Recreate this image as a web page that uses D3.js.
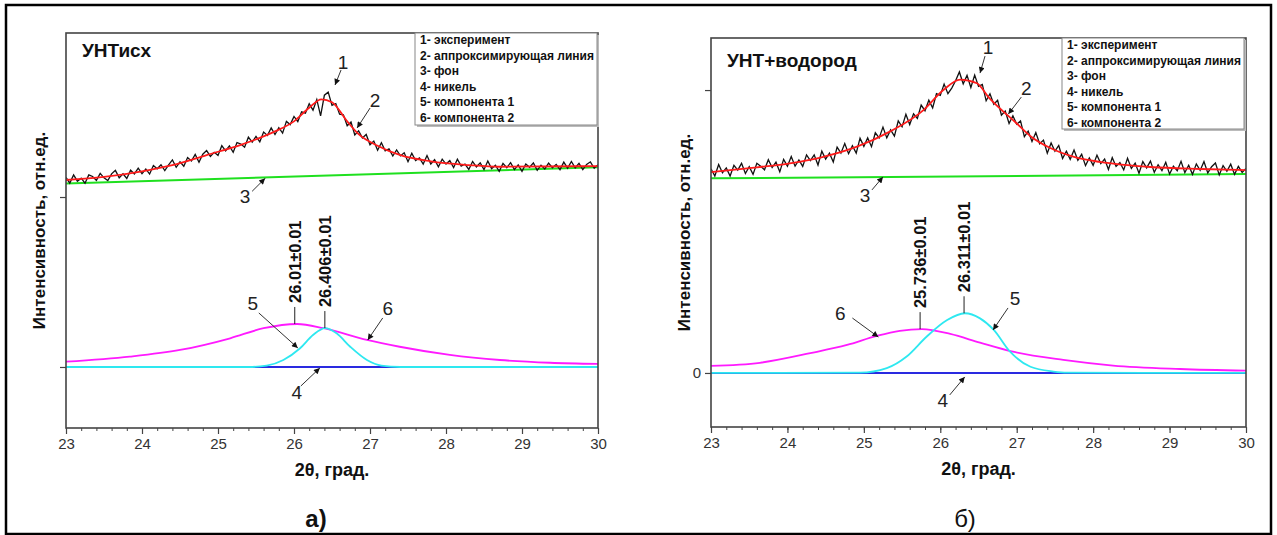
<!DOCTYPE html>
<html>
<head>
<meta charset="utf-8">
<script src="https://cdn.jsdelivr.net/npm/d3@7"></script>
<style>
  body { margin: 0; background: #fff; }
  svg { display: block; font-family: "Liberation Sans", Arial, sans-serif; }
</style>
</head>
<body>
<svg id="chart" width="1277" height="535"></svg>
<script>
// ---- shared ----
const xTicks = [23, 24, 25, 26, 27, 28, 29, 30]
const expStart = 23, expStep = 0.05
const legendItems = ["1- эксперимент", "2- аппроксимирующая линия", "3- фон", "4- никель", "5- компонента 1", "6- компонента 2"]

// ---- panel а) УНТисх ----
const expA = [111.5,108.2,113.0,109.3,111.1,108.1,113.0,112.1,109.8,113.9,111.3,109.7,113.6,115.7,111.3,113.7,110.9,115.8,113.6,117.0,
  113.7,116.5,113.5,118.5,116.6,119.0,115.6,118.9,121.8,117.5,120.7,118.1,123.2,121.2,125.1,120.4,125.2,127.3,123.9,126.3,
  124.5,130.2,127.1,130.1,126.3,132.0,131.2,129.3,135.2,132.3,135.7,132.5,138.2,136.2,140.7,136.8,140.8,137.6,144.5,142.6,
  147.4,144.4,150.1,149.3,154.9,151.1,157.4,147.7,159.9,161.7,153.9,155.0,148.7,148.4,141.9,144.1,136.5,138.9,134.8,136.8,
  130.7,132.9,127.5,131.9,127.2,128.3,124.1,127.7,124.2,126.0,120.8,125.8,121.5,123.0,119.4,124.4,119.4,122.0,117.8,122.3,
  119.4,121.4,117.3,122.2,118.2,119.4,116.2,120.9,117.7,120.1,116.1,121.2,116.7,118.7,115.1,119.8,117.3,120.2,116.1,118.9,
  115.1,119.4,117.5,120.1,115.7,118.7,116.5,119.9,117.2,119.2,116.1,120.5,117.0,120.9,117.2,119.8,116.1,119.2,120.7,116.9,119.0]
const fitA_x = [23.0, 23.5, 24.0, 24.4, 24.85, 25.3, 25.75, 26.0, 26.2, 26.36, 26.5, 26.7, 26.85, 27.1, 27.4, 27.8, 28.3, 28.7, 30.0]
const fitA_y = [110.0, 111.8, 115.1, 118.7, 124.7, 130.7, 138.6, 144.5, 152.5, 157.5, 155.8, 144.5, 137.0, 130.2, 124.6, 121.0, 118.8, 117.8, 118.2]
const bgA_x = [23, 30]
const bgA_y = [107.9, 117.5]
const niA_x = [23, 30]
const niA_y = [0, 0]
const comp1A_x = [23, 25.4, 25.64, 25.86, 26.08, 26.25, 26.41, 26.56, 26.74, 26.96, 27.15, 27.4, 30]
const comp1A_y = [0, 0, 0.8, 4.1, 11.0, 18.8, 22.9, 19.8, 11.9, 4.1, 0.8, 0, 0]
const comp2A_x = [23.0, 23.84, 24.5, 25.16, 25.6, 26.04, 26.39, 26.96, 27.39, 28.05, 28.71, 29.37, 30.0]
const comp2A_y = [3.1, 6.1, 10.0, 16.9, 22.8, 25.3, 22.8, 15.9, 11.9, 7.1, 4.1, 2.5, 1.8]
const peaksA = [{ text: "26.01±0.01", x: 26.01, y: 25.3 }, { text: "26.406±0.01", x: 26.406, y: 22.9 }]
const notesA = [
  { text: "1", x: 26.54, y: 165.9, lx: 8, ly: -23, sx: 6, sy: -15 },
  { text: "2", x: 26.83, y: 140.6, lx: 18, ly: -28, sx: 13, sy: -20 },
  { text: "3", x: 25.62, y: 111.0, lx: -20, ly: 18, sx: -13, sy: 13 },
  { text: "5", x: 26.05, y: 11.2, lx: -45, ly: -45, sx: -39, sy: -35 },
  { text: "6", x: 26.97, y: 15.9, lx: 20, ly: -32, sx: 15, sy: -22 },
  { text: "4", x: 26.34, y: -0.6, lx: -23, ly: 24, sx: -19, sy: 18 }
]

// ---- panel б) УНТ+водород ----
const expB = [72.2,69.6,73.7,70.8,72.5,69.6,73.4,71.7,74.1,70.5,72.9,70.2,74.1,73.1,71.8,75.4,72.6,74.5,71.1,75.5,
  73.1,76.5,73.1,75.3,73.0,77.1,75.1,77.1,73.5,78.4,75.6,77.7,74.6,79.8,77.7,81.1,77.5,80.3,77.7,83.0,
  80.1,83.1,80.0,84.9,83.1,86.9,83.1,85.9,83.7,89.1,87.0,91.4,87.8,91.6,90.0,94.7,92.7,96.4,93.7,98.7,
  98.1,102.1,98.7,100.7,103.3,106.4,102.2,105.2,100.9,105.3,101.3,102.0,96.2,98.7,95.0,96.4,91.1,92.6,88.2,90.9,
  87.9,89.1,83.5,85.5,81.8,85.0,81.0,82.3,77.7,81.3,78.4,80.4,75.8,78.4,75.5,78.8,75.2,77.3,73.3,76.0,
  73.4,77.0,74.0,75.6,71.9,76.1,73.0,74.4,71.8,75.9,72.3,74.2,70.6,74.7,72.5,74.9,70.9,73.6,71.5,74.5,
  70.3,73.1,71.5,74.8,70.8,73.4,70.2,73.9,71.6,74.7,70.7,72.9,74.2,70.0,73.3,71.3,73.8,70.2,73.0,70.9,72.3]
const fitB_x = [23.0, 23.6, 24.03, 24.47, 24.91, 25.34, 25.78, 26.04, 26.26, 26.48, 26.63, 26.78, 26.98, 27.18, 27.44, 27.76, 28.09, 28.75, 29.4, 30.0]
const fitB_y = [71.0, 72.7, 74.1, 76.4, 80.0, 85.3, 92.9, 100.0, 103.7, 102.4, 97.5, 93.5, 88.7, 83.7, 79.5, 76.3, 74.6, 72.8, 72.1, 71.7]
const bgB_x = [23, 30]
const bgB_y = [68.8, 70.3]
const niB_x = [23, 30]
const niB_y = [0, 0]
const comp1B_x = [23, 24.95, 25.3, 25.56, 25.82, 26.09, 26.32, 26.52, 26.7, 26.91, 27.18, 27.48, 27.66, 30]
const comp1B_y = [0, 0.1, 1.7, 5.8, 12.8, 18.7, 21.1, 19.3, 15.2, 7.6, 2.2, 0.5, 0.1, 0]
const comp2B_x = [23.0, 23.64, 24.3, 24.78, 25.17, 25.47, 25.76, 26.13, 26.52, 26.95, 27.61, 28.26, 29.14, 30.0]
const comp2B_y = [2.5, 3.6, 7.0, 9.9, 13.1, 14.9, 15.5, 13.8, 10.7, 7.5, 4.6, 2.6, 1.4, 0.8]
const peaksB = [{ text: "25.736±0.01", x: 25.736, y: 15.5 }, { text: "26.311±0.01", x: 26.311, y: 21.1 }]
const notesB = [
  { text: "1", x: 26.52, y: 106.0, lx: 8, ly: -26, sx: 5, sy: -17 },
  { text: "2", x: 26.89, y: 91.5, lx: 18, ly: -26, sx: 13, sy: -17 },
  { text: "3", x: 25.25, y: 69.3, lx: -18, ly: 18, sx: -11, sy: 13 },
  { text: "6", x: 25.19, y: 12.7, lx: -38, ly: -24, sx: -26, sy: -19 },
  { text: "5", x: 26.69, y: 15.2, lx: 22, ly: -32, sx: 15, sy: -22 },
  { text: "4", x: 26.32, y: -1.4, lx: -22, ly: 23, sx: -15, sy: 18 }
]

const svg = d3.select("#chart")

svg.append("defs").append("marker")
  .attr("id", "arrow")
  .attr("viewBox", "0 0 10 10")
  .attr("refX", 10).attr("refY", 5)
  .attr("markerWidth", 8).attr("markerHeight", 6)
  .attr("markerUnits", "userSpaceOnUse")
  .attr("orient", "auto")
  .append("path").attr("d", "M0,0 L10,5 L0,10 z").attr("fill", "#111")

// outer border
svg.append("rect")
  .attr("x", 6).attr("y", 5).attr("width", 1265).attr("height", 529)
  .attr("fill", "none").attr("stroke", "#000").attr("stroke-width", 2.5)

function zip(xs, ys) { return xs.map((v, i) => [v, ys[i]]) }

function drawPanel(p) {
  const g = svg.append("g")
  const x = d3.scaleLinear().domain([23, 30]).range([p.left, p.right])
  const y = d3.scaleLinear().domain(p.yDomain).range([p.bottom, p.top])

  g.append("clipPath").attr("id", p.id + "-clip")
    .append("rect").attr("x", p.left).attr("y", p.top)
    .attr("width", p.right - p.left).attr("height", p.bottom - p.top)

  // x axis, major and minor
  g.append("g")
    .attr("transform", `translate(0,${p.bottom})`)
    .call(d3.axisBottom(x).tickValues(d3.range(23, 30.01, 0.2)).tickSize(3).tickFormat(""))
    .call(a => a.select(".domain").remove())
    .call(a => a.selectAll("line").attr("stroke", "#444"))
  g.append("g")
    .attr("transform", `translate(0,${p.bottom})`)
    .call(d3.axisBottom(x).tickValues(xTicks).tickSize(6).tickPadding(4).tickFormat(d3.format("d")))
    .call(a => a.select(".domain").remove())
    .call(a => a.selectAll("line").attr("stroke", "#444").attr("stroke-width", 1.2))
    .call(a => a.selectAll("text").attr("font-size", 15).attr("fill", "#333")
      .attr("font-family", "Liberation Sans, Arial, sans-serif"))

  // y axis ticks
  g.append("g")
    .attr("transform", `translate(${p.left},0)`)
    .call(d3.axisLeft(y).tickValues(p.yTicks).tickSize(6).tickPadding(4)
      .tickFormat(d => p.yLabels.includes(d) ? d : ""))
    .call(a => a.select(".domain").remove())
    .call(a => a.selectAll("line").attr("stroke", "#444").attr("stroke-width", 1.2))
    .call(a => a.selectAll("text").attr("font-size", 15).attr("fill", "#333")
      .attr("font-family", "Liberation Sans, Arial, sans-serif"))

  const plot = g.append("g").attr("clip-path", `url(#${p.id}-clip)`)
  const smooth = d3.line().x(d => x(d[0])).y(d => y(d[1])).curve(d3.curveMonotoneX)
  const straight = d3.line().x(d => x(d[0])).y(d => y(d[1]))

  const expPts = p.exp.map((v, i) => [expStart + i * expStep, v])

  plot.append("path").attr("d", straight(zip(p.bg[0], p.bg[1])))
    .attr("fill", "none").attr("stroke", "#1fe01f").attr("stroke-width", 2)
  plot.append("path").attr("d", straight(expPts))
    .attr("fill", "none").attr("stroke", "#111").attr("stroke-width", 1.3)
  plot.append("path").attr("d", smooth(zip(p.fit[0], p.fit[1])))
    .attr("fill", "none").attr("stroke", "#ff1a1a").attr("stroke-width", 1.8)
  plot.append("path").attr("d", straight(zip(p.ni[0], p.ni[1])))
    .attr("fill", "none").attr("stroke", "#2a2ae0").attr("stroke-width", 2)
  plot.append("path").attr("d", smooth(zip(p.c2[0], p.c2[1])))
    .attr("fill", "none").attr("stroke", "#ff1aff").attr("stroke-width", 1.8)
  plot.append("path").attr("d", smooth(zip(p.c1[0], p.c1[1])))
    .attr("fill", "none").attr("stroke", "#2ee8f0").attr("stroke-width", 1.8)

  // peak position labels
  p.peaks.forEach(pk => {
    const px = x(pk.x), py = y(pk.y)
    g.append("line").attr("x1", px).attr("x2", px).attr("y1", py).attr("y2", py - 17)
      .attr("stroke", "#222").attr("stroke-width", 1)
    g.append("text")
      .attr("transform", `translate(${px + 6},${py - 21}) rotate(-90)`)
      .attr("font-size", 16.5).attr("font-weight", "bold").attr("fill", "#111")
      .text(pk.text)
  })

  // numbered arrows
  p.notes.forEach(n => {
    const tx = x(n.x), ty = y(n.y)
    g.append("line")
      .attr("x1", tx + n.sx).attr("y1", ty + n.sy).attr("x2", tx).attr("y2", ty)
      .attr("stroke", "#333").attr("stroke-width", 1).attr("marker-end", "url(#arrow)")
    g.append("text")
      .attr("x", tx + n.lx).attr("y", ty + n.ly + 7)
      .attr("text-anchor", "middle").attr("font-size", 19).attr("fill", "#222")
      .text(n.text)
  })

  // frame
  g.append("rect")
    .attr("x", p.left).attr("y", p.top).attr("width", p.right - p.left).attr("height", p.bottom - p.top)
    .attr("fill", "none").attr("stroke", "#444").attr("stroke-width", 1.6)

  // legend box
  const lg = g.append("g").attr("transform", `translate(${p.legend[0]},${p.legend[1]})`)
  lg.append("rect").attr("x", 2).attr("y", 2).attr("width", p.legend[2]).attr("height", p.legend[3])
    .attr("fill", "#bbb")
  lg.append("rect").attr("width", p.legend[2]).attr("height", p.legend[3])
    .attr("fill", "#fff").attr("stroke", "#888").attr("stroke-width", 1)
  lg.selectAll("text").data(legendItems).join("text")
    .attr("x", 5).attr("y", (d, i) => 11 + i * 15.6)
    .attr("font-size", 12).attr("font-weight", "bold").attr("fill", "#111")
    .text(d => d)

  // sample title
  g.append("text").attr("x", p.left + 16).attr("y", p.titleY)
    .attr("font-size", 19).attr("font-weight", "bold").attr("fill", "#111")
    .text(p.title)

  // axis titles
  g.append("text")
    .attr("x", (p.left + p.right) / 2).attr("y", p.bottom + 48)
    .attr("text-anchor", "middle").attr("font-size", 18).attr("font-weight", "bold").attr("fill", "#111")
    .text("2θ, град.")
  g.append("text")
    .attr("transform", `translate(${p.left - 21},${(p.top + p.bottom) / 2}) rotate(-90)`)
    .attr("text-anchor", "middle").attr("font-size", 17).attr("font-weight", "bold").attr("fill", "#111")
    .text("Интенсивность, отн.ед.")

  // panel letter
  g.append("text")
    .attr("x", p.letterX).attr("y", 527)
    .attr("text-anchor", "middle").attr("font-size", 24).attr("font-weight", p.letterWeight).attr("fill", "#111")
    .text(p.letter)
}

drawPanel({
  id: "a", left: 66, right: 598, top: 33, bottom: 428,
  yDomain: [-35.9, 196.5], yTicks: [0, 100], yLabels: [],
  exp: expA, fit: [fitA_x, fitA_y], bg: [bgA_x, bgA_y], ni: [niA_x, niA_y],
  c1: [comp1A_x, comp1A_y], c2: [comp2A_x, comp2A_y],
  peaks: peaksA, notes: notesA,
  legend: [415, 33, 182, 92], title: "УНТисх", titleY: 57,
  letter: "а)", letterX: 316, letterWeight: "bold"
})

drawPanel({
  id: "b", left: 711, right: 1246, top: 38, bottom: 427,
  yDomain: [-19.1, 118.4], yTicks: [0, 100], yLabels: [0],
  exp: expB, fit: [fitB_x, fitB_y], bg: [bgB_x, bgB_y], ni: [niB_x, niB_y],
  c1: [comp1B_x, comp1B_y], c2: [comp2B_x, comp2B_y],
  peaks: peaksB, notes: notesB,
  legend: [1062, 38, 182, 91], title: "УНТ+водород", titleY: 67,
  letter: "б)", letterX: 965, letterWeight: "normal"
})
</script>
</body>
</html>
